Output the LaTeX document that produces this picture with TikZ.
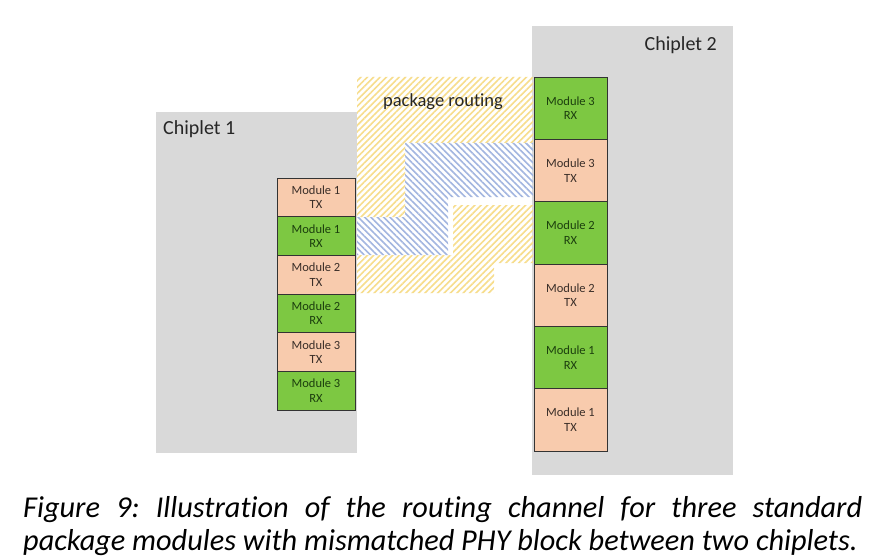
\documentclass[tikz,border=0pt]{standalone}
\usepackage{fontspec}
\setmainfont{Carlito}[Ligatures=NoCommon]
\usetikzlibrary{positioning, patterns.meta}

\definecolor{txpeach}{HTML}{F8CBAD}
\definecolor{rxgreen}{HTML}{7DC842}
\definecolor{chipgray}{HTML}{D9D9D9}
\definecolor{hatchyellow}{HTML}{F7DD8C}
\definecolor{hatchblue}{HTML}{A3B6E0}
\definecolor{rxtext}{HTML}{1C3F0E}
\definecolor{txtext}{HTML}{3A2E28}

\begin{document}
\frenchspacing
\begin{tikzpicture}[x=1pt, y=-1pt,
    node distance=0pt,
    chiplet/.style={rectangle, fill=chipgray, anchor=north west, inner sep=0pt, outer sep=0pt},
    module/.style={rectangle, draw=black!80, line width=0.9pt, align=center, inner sep=0pt, outer sep=0pt, font=\fontsize{12.5}{14.5}\selectfont},
    txmod/.style={module, fill=txpeach, text=txtext},
    rxmod/.style={module, fill=rxgreen, text=rxtext},
    small/.style={minimum width=78pt, minimum height=38.67pt},
    tall/.style={minimum width=73pt, minimum height=62.33pt},
    yroute/.style={pattern={Lines[angle=45, distance=4.5pt, line width=1.6pt]}, pattern color=hatchyellow},
    broute/.style={pattern={Lines[angle=-45, distance=4.5pt, line width=1.6pt]}, pattern color=hatchblue},
    title/.style={font=\fontsize{20}{24}\selectfont, text=black!85, inner sep=0pt},
    caption/.style={font=\fontsize{30.3}{36}\selectfont\itshape, inner sep=0pt}
]
\useasboundingbox (0,0) rectangle (870,559);
\fill[white] (0,0) rectangle (870,559);

% Chiplet 1
\node[chiplet, minimum width=201pt, minimum height=341pt] (chip1) at (156,112) {};
\node[title, anchor=west] (chip1name) at (163,129) {Chiplet 1};
\node[txmod, small, anchor=north east] (c1m1tx) at (355,178) {Module 1\\TX};
\node[rxmod, small, below=of c1m1tx] (c1m1rx) {Module 1\\RX};
\node[txmod, small, below=of c1m1rx] (c1m2tx) {Module 2\\TX};
\node[rxmod, small, below=of c1m2tx] (c1m2rx) {Module 2\\RX};
\node[txmod, small, below=of c1m2rx] (c1m3tx) {Module 3\\TX};
\node[rxmod, small, below=of c1m3tx] (c1m3rx) {Module 3\\RX};

% Chiplet 2
\node[chiplet, minimum width=201pt, minimum height=449pt] (chip2) at (532,26) {};
\node[title, anchor=east] (chip2name) at (717,45) {Chiplet 2};
\node[rxmod, tall, anchor=north west] (c2m3rx) at (534,77) {Module 3\\RX};
\node[txmod, tall, below=of c2m3rx] (c2m3tx) {Module 3\\TX};
\node[rxmod, tall, below=of c2m3tx] (c2m2rx) {Module 2\\RX};
\node[txmod, tall, below=of c2m2rx] (c2m2tx) {Module 2\\TX};
\node[rxmod, tall, below=of c2m2tx] (c2m1rx) {Module 1\\RX};
\node[txmod, tall, below=of c2m1rx] (c2m1tx) {Module 1\\TX};

% Package routing
\fill[yroute] (357,77) -- (533,77) -- (533,143) -- (405,143) -- (405,217) -- (357,217) -- cycle;
\fill[broute] (357,217) -- (405,217) -- (405,143) -- (533,143) -- (533,197) -- (448,197) -- (448,255) -- (357,255) -- cycle;
\fill[yroute] (357,255) -- (453,255) -- (453,205) -- (533,205) -- (533,263) -- (494,263) -- (494,293) -- (357,293) -- cycle;
\node[title, font=\fontsize{18.5}{22}\selectfont] (routing) at (443,102) {package routing};

% Caption
\node[caption, anchor=base west] (cap1) at (23,517) {\makebox[839pt][s]{Figure 9: Illustration of the routing channel for three standard}};
\node[caption, anchor=base west] (cap2) at (23,550) {package modules with mismatched PHY block between two chiplets.};

\end{tikzpicture}
\end{document}
